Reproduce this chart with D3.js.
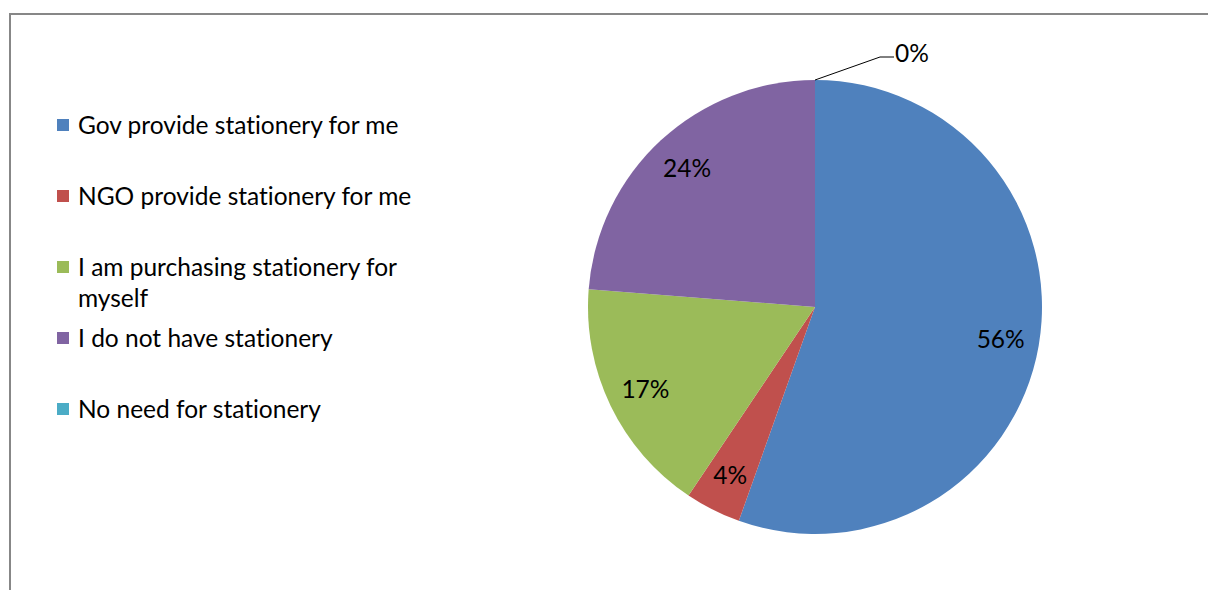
<!DOCTYPE html>
<html>
<head>
<meta charset="utf-8">
<script src="https://cdn.jsdelivr.net/npm/d3@7"></script>
<style>
  html, body { margin: 0; padding: 0; background: #fff; }
  svg { display: block; }
  text { font-variant-ligatures: none; }
</style>
</head>
<body>
<svg id="chart" width="1208" height="590"></svg>
<script>
const categories = [
  "Gov provide stationery for me",
  "NGO provide stationery for me",
  "I am purchasing stationery for myself",
  "I do not have stationery",
  "No need for stationery"
];
// legend text, wrapped as displayed
const legendLines = [
  ["Gov provide stationery for me"],
  ["NGO provide stationery for me"],
  ["I am purchasing stationery for", "myself"],
  ["I do not have stationery"],
  ["No need for stationery"]
];
const values = [56, 4, 17, 24, 0];
const colors = ["#4F81BD", "#C0504D", "#9BBB59", "#8064A2", "#4BACC6"];

const FONT = "Lato, 'Open Sans', sans-serif";
const FONT_SIZE = 24.5;
const svg = d3.select("#chart");

// chart frame (runs past the right and bottom edges)
svg.append("rect")
  .attr("x", 10).attr("y", 14)
  .attr("width", 1220).attr("height", 620)
  .attr("fill", "#fff")
  .attr("stroke", "#878787").attr("stroke-width", 2);

const cx = 815, cy = 307, r = 227;
const g = svg.append("g").attr("transform", `translate(${cx},${cy})`);

const pie = d3.pie().sort(null).value(d => d);
const arcs = pie(values);
const arc = d3.arc().innerRadius(0).outerRadius(r);
const labelArc = d3.arc().innerRadius(r * 0.83).outerRadius(r * 0.83);

g.selectAll("path.slice")
  .data(arcs)
  .join("path")
  .attr("class", "slice")
  .attr("d", arc)
  .attr("fill", (d, i) => colors[i]);

// data labels
arcs.forEach((d, i) => {
  if (d.value > 0) {
    const [x, y] = labelArc.centroid(d);
    g.append("text")
      .attr("x", x).attr("y", y)
      .attr("dy", "0.35em")
      .attr("text-anchor", "middle")
      .attr("font-family", FONT)
      .attr("font-size", FONT_SIZE)
      .attr("fill", "#000")
      .text(values[i] + "%");
  } else {
    // empty slice: label sits outside with a leader line
    const a = d.startAngle;
    const p0 = [r * Math.sin(a), -r * Math.cos(a)];
    const p1 = [p0[0] + 65, p0[1] - 23];
    const p2 = [p1[0] + 14, p1[1]];
    g.append("polyline")
      .attr("points", [p0, p1, p2].map(p => p.join(",")).join(" "))
      .attr("fill", "none")
      .attr("stroke", "#000").attr("stroke-width", 1);
    g.append("text")
      .attr("x", p2[0] + 1).attr("y", p2[1] - 4)
      .attr("dy", "0.35em")
      .attr("font-family", FONT)
      .attr("font-size", FONT_SIZE)
      .attr("fill", "#000")
      .text(values[i] + "%");
  }
});

// legend
const legend = svg.append("g");
legendLines.forEach((lines, i) => {
  const y = 125 + i * 71;
  legend.append("rect")
    .attr("x", 57).attr("y", y - 6)
    .attr("width", 12).attr("height", 12)
    .attr("fill", colors[i]);
  const t = legend.append("text")
    .attr("x", 78).attr("y", y)
    .attr("font-family", FONT)
    .attr("font-size", FONT_SIZE)
    .attr("fill", "#000");
  lines.forEach((ln, k) => {
    t.append("tspan").attr("x", 78).attr("dy", k === 0 ? "0.35em" : 31).text(ln);
  });
});
</script>
</body>
</html>
